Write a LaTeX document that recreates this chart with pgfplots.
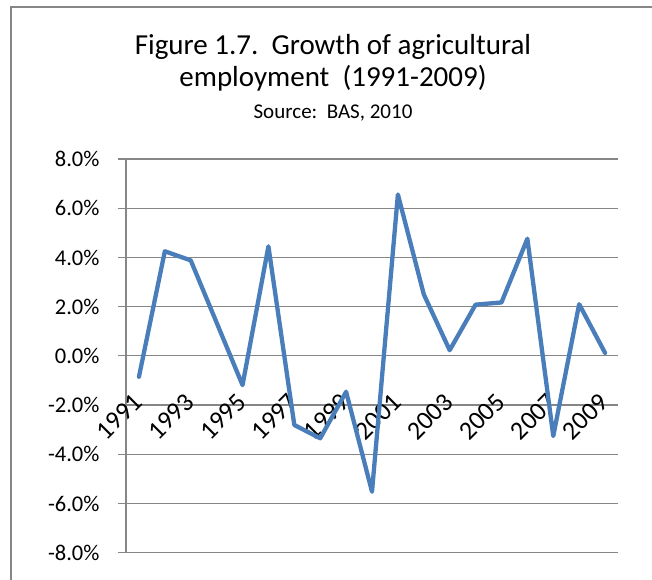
\documentclass[border=0pt]{standalone}
\usepackage{fontspec}
\setmainfont{Carlito}
\usepackage{pgfplots}
\pgfplotsset{compat=1.18}
\definecolor{linecol}{RGB}{74,126,187}
\definecolor{gridcol}{RGB}{134,134,134}
\begin{document}
\begin{tikzpicture}[x=1pt,y=1pt]
\path[use as bounding box] (0,0) rectangle (652,579);
\draw[gridcol, line width=2pt] (11,-2) -- (11,572) -- (654,572);
\node[anchor=base, font=\fontsize{29}{34}\selectfont] at (333,524) {Figure 1.7.\ \ Growth of agricultural};
\node[anchor=base, font=\fontsize{29}{34}\selectfont] at (333,492) {employment\ \ (1991-2009)};
\node[anchor=base, font=\fontsize{21}{25}\selectfont] at (333,460) {Source:\ \ BAS, 2010};
\begin{axis}[
  at={(126pt,26.3pt)}, anchor=south west,
  scale only axis, width=492pt, height=393.7pt,
  xmin=-0.5, xmax=18.5, ymin=-8, ymax=8,
  axis x line*=middle, axis y line*=left,
  axis line style={gridcol, line width=1.2pt},
  ytick={-8,-6,...,8},
  yticklabels={-8.0\%,-6.0\%,-4.0\%,-2.0\%,0.0\%,2.0\%,4.0\%,6.0\%,8.0\%},
  ymajorgrids, grid style={gridcol, line width=1.2pt},
  xtick={0,2,...,18},
  xticklabels={1991,1993,1995,1997,1999,2001,2003,2005,2007,2009},
  minor xtick={-0.5,0.5,...,18.5},
  tick align=outside,
  major tick length=8pt, minor tick length=7pt,
  xtick style={draw=none},
  minor tick style={gridcol, line width=1.2pt, draw=gridcol},
  ytick style={gridcol, line width=1.2pt},
  yticklabel style={font=\fontsize{22.5}{27}\selectfont, xshift=-15pt},
  xticklabel style={font=\fontsize{26}{30}\selectfont, anchor=base east, inner sep=0pt, xshift=5pt, yshift=-40pt, rotate=45},
  clip=false,
]
\addplot[linecol, line width=4.3pt, line join=round, line cap=round] coordinates {
(0,-0.85) (1,4.25) (2,3.88) (3,1.35) (4,-1.19) (5,4.45) (6,-2.81) (7,-3.35) (8,-1.46) (9,-5.52)
(10,6.56) (11,2.5) (12,0.23) (13,2.08) (14,2.17) (15,4.76) (16,-3.26) (17,2.1) (18,0.12)
};
\end{axis}
\end{tikzpicture}
\end{document}
